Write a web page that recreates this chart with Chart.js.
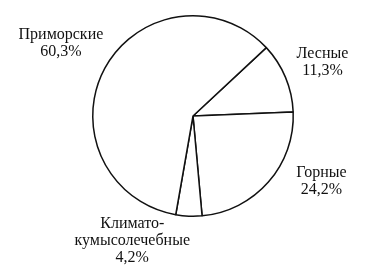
<!DOCTYPE html>
<html>
<head>
<meta charset="utf-8">
<script src="https://cdn.jsdelivr.net/npm/chart.js@4"></script>
<style>
  html, body { margin: 0; padding: 0; background: #fff; }
  canvas { display: block; }
</style>
</head>
<body>
<canvas id="c" width="377" height="279"></canvas>
<script>
// Structure of resorts by type, %
const categories = ['Лесные', 'Горные', 'Климато-кумысолечебные', 'Приморские'];
const shares = [11.3, 24.2, 4.2, 60.3];
// How each category name is broken into lines of its label
const nameLines = [['Лесные'], ['Горные'], ['Климато-', 'кумысолечебные'], ['Приморские']];

// Label placement: distance past the rim along the slice bisector, then a nudge
const labelPlace = [
  { extra: 39, dx: 1, dy: 0 },
  { extra: 44, dx: 20, dy: -30 },
  { extra: 39, dx: -55, dy: -14 },
  { extra: 50, dx: 0, dy: -1 }
];

const fmt = v => v.toFixed(1).replace('.', ',') + '%';

const outsideLabels = {
  id: 'outsideLabels',
  afterDraw(chart) {
    const ctx = chart.ctx;
    const meta = chart.getDatasetMeta(0);
    ctx.save();
    ctx.font = '16px "Liberation Serif", "Times New Roman", serif';
    ctx.fillStyle = '#111111';
    ctx.textAlign = 'center';
    ctx.textBaseline = 'middle';
    const lineH = 17;
    meta.data.forEach((arc, i) => {
      const p = arc.getProps(['x', 'y', 'startAngle', 'endAngle', 'outerRadius'], true);
      const mid = (p.startAngle + p.endAngle) / 2;
      const r = p.outerRadius + labelPlace[i].extra;
      const cx = p.x + Math.cos(mid) * r + labelPlace[i].dx;
      const cy = p.y + Math.sin(mid) * r + labelPlace[i].dy;
      const lines = nameLines[i].concat([fmt(shares[i])]);
      const top = cy - (lines.length - 1) * lineH / 2;
      lines.forEach((t, k) => ctx.fillText(t, cx, top + k * lineH));
    });
    ctx.restore();
  }
};

new Chart(document.getElementById('c'), {
  type: 'pie',
  data: {
    labels: categories,
    datasets: [{
      data: shares,
      backgroundColor: '#ffffff',
      borderColor: '#111111',
      borderWidth: 1.5
    }]
  },
  options: {
    responsive: false,
    animation: false,
    rotation: 47,
    layout: { padding: { top: 15, bottom: 62, left: 92, right: 83 } },
    plugins: {
      legend: { display: false },
      tooltip: { enabled: false }
    }
  },
  plugins: [outsideLabels]
});
</script>
</body>
</html>
